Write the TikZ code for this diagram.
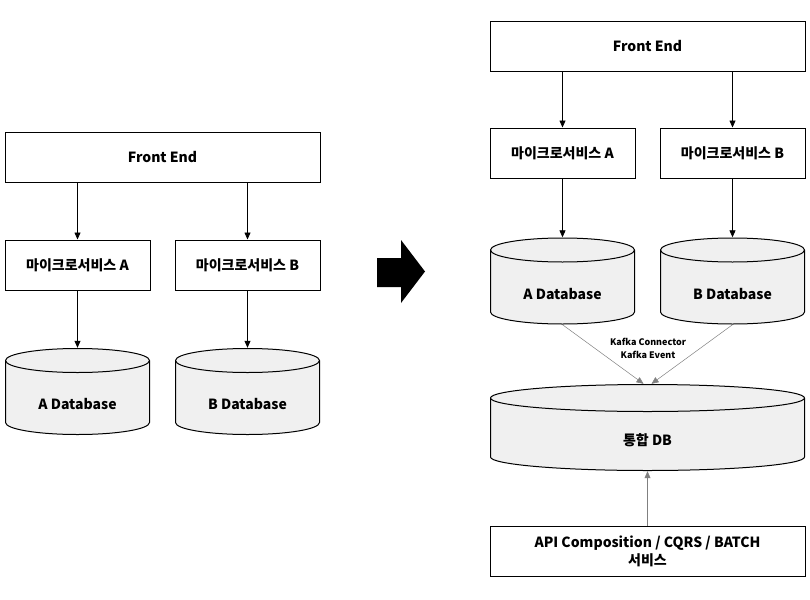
\documentclass[tikz,border=0pt]{standalone}
\usepackage{fontspec}
\setmainfont{Noto Sans CJK KR}
\usetikzlibrary{arrows.meta}

\definecolor{dbfill}{HTML}{F0F0F0}
\newcommand{\dbtext}[1]{\raisebox{-18pt}[0pt][0pt]{#1}}

\tikzset{
  box/.style={draw, line width=1pt, fill=white, minimum width=145pt, minimum height=50pt, inner sep=0pt, font=\fontsize{14}{16}\selectfont\bfseries},
  widebox/.style={box, minimum width=315pt},
  % cylinder drawn inside the node box: width, end radius
  cyl/.style 2 args={minimum width=#1, minimum height=87pt, inner sep=0pt, font=\fontsize{14}{16}\selectfont\bfseries,
    path picture={
      \draw[line width=1pt, fill=dbfill]
        ([shift={(0.5pt,-#2)}]path picture bounding box.north west)
        -- ([shift={(0.5pt,#2)}]path picture bounding box.south west)
        arc[start angle=180, end angle=360, x radius=#1/2-0.5pt, y radius=#2-0.5pt]
        -- ([shift={(-0.5pt,-#2)}]path picture bounding box.north east)
        arc[start angle=0, end angle=180, x radius=#1/2-0.5pt, y radius=#2-0.5pt] -- cycle;
      \draw[line width=1pt]
        ([shift={(0.5pt,-#2)}]path picture bounding box.north west)
        arc[start angle=180, end angle=360, x radius=#1/2-0.5pt, y radius=#2-0.5pt];
    }},
  db/.style={cyl={145pt}{12.5pt}},
  hubdb/.style={cyl={315pt}{14pt}},
  link/.style={-{Triangle[width=6pt,length=7pt]}, line width=0.8pt},
  kafka/.style={-{Triangle[width=6pt,length=7pt]}, line width=0.5pt, draw=gray}
}

\begin{document}
\begin{tikzpicture}[x=1pt,y=-1pt]
      \useasboundingbox (0,0) rectangle (810,599);
      %before
      \node[widebox] (lfe) at (162.5,157.5) {Front End};
      \node[box] (lsa) at (77.5,265) {마이크로서비스 A};
      \node[box] (lsb) at (247.5,265) {마이크로서비스 B};
      \node[db] (lda) at (77.5,391.5) {\dbtext{A Database}};
      \node[db] (ldb) at (247.5,391.5) {\dbtext{B Database}};
      \draw[link] (lfe.south -| lsa) -- (lsa);
      \draw[link] (lfe.south -| lsb) -- (lsb);
      \draw[link] (lsa) -- (lda);
      \draw[link] (lsb) -- (ldb);
      %big arrow
      \fill (377,258) -- (401,258) -- (401,240) -- (425,271.5) -- (401,303) -- (401,287) -- (377,287) -- cycle;
      %after
      \node[widebox] (rfe) at (647.5,46.5) {Front End};
      \node[box] (rsa) at (562.5,153) {마이크로서비스 A};
      \node[box] (rsb) at (732.5,153) {마이크로서비스 B};
      \node[db] (rda) at (562.5,281) {\dbtext{A Database}};
      \node[db] (rdb) at (732.5,281) {\dbtext{B Database}};
      \node[hubdb] (hub) at (647.5,427.5) {\dbtext{통합 DB}};
      \node[widebox, align=center] (api) at (647.5,551) {API Composition / CQRS / BATCH\\[2pt]서비스};
      \draw[link] (rfe.south -| rsa) -- (rsa);
      \draw[link] (rfe.south -| rsb) -- (rsb);
      \draw[link] (rsa) -- (rda);
      \draw[link] (rsb) -- (rdb);
      %kafka
      \draw[kafka] (rda.south) -- ([xshift=-4pt]hub.north);
      \draw[kafka] (rdb.south) -- ([xshift=4pt]hub.north);
      \node[align=center, font=\fontsize{9}{13}\selectfont\bfseries] (kafkatext) at (648,348.5) {Kafka Connector\\Kafka Event};
      \draw[kafka] (api) -- (hub);
\end{tikzpicture}
\end{document}
